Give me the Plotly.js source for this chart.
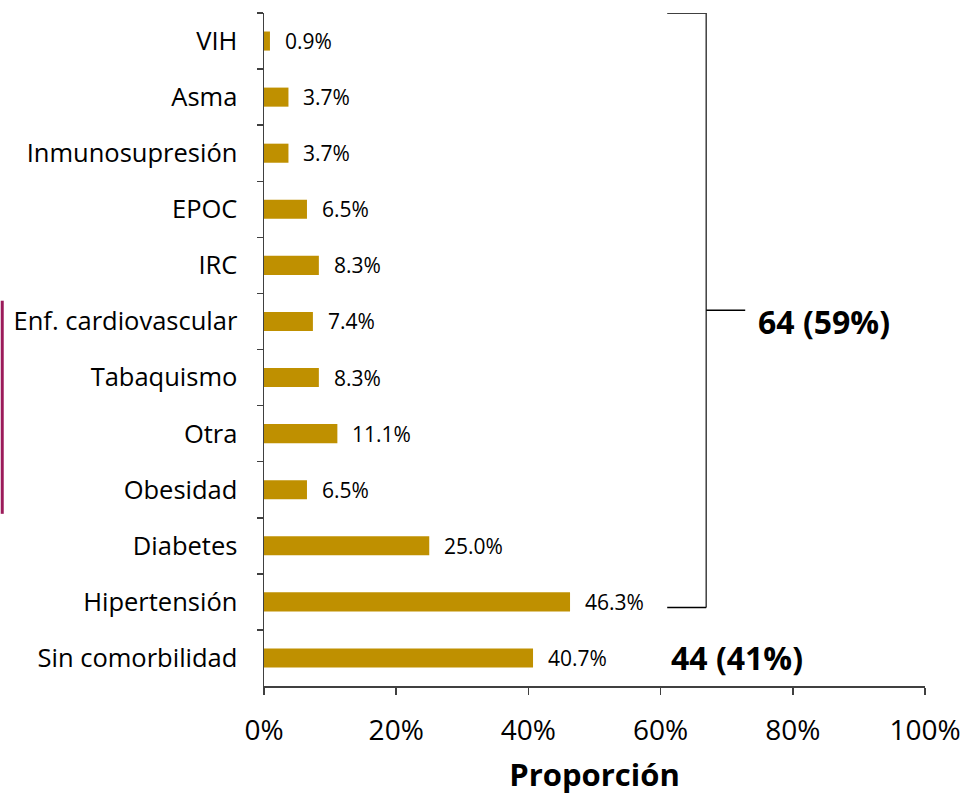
<!DOCTYPE html>
<html>
<head>
<meta charset="utf-8">
<script src="https://cdn.plot.ly/plotly-3.0.1.min.js"></script>
<style>html,body{margin:0;padding:0;background:#fff;}#chart{width:962px;height:797px;}</style>
</head>
<body>
<div id="chart"></div>
<script>
const categories = ["VIH","Asma","Inmunosupresión","EPOC","IRC","Enf. cardiovascular","Tabaquismo","Otra","Obesidad","Diabetes","Hipertensión","Sin comorbilidad"];
const values = [0.9,3.7,3.7,6.5,8.3,7.4,8.3,11.1,6.5,25.0,46.3,40.7];
const valueLabels = values.map(v => v.toFixed(1) + "%");
const xTicks = [0,20,40,60,80,100];
const xTickLabels = xTicks.map(v => v + "%");
const groupLabels = ["64 (59%)","44 (41%)"];

const FONT = "'Open Sans', sans-serif";
const lineColor = "#404040";

const trace = {
  type: "bar",
  orientation: "h",
  y: categories,
  x: values,
  width: 0.34,
  marker: {color: "#BF9000"},
  hoverinfo: "skip"
};

const annotations = values.map((v,i) => ({
  x: v, y: categories[i], xref: "x", yref: "y",
  text: valueLabels[i], showarrow: false,
  xanchor: "left", xshift: 13,
  font: {family: FONT, size: 21, color: "#000"}
}));
annotations.push({
  x: 74.5, y: 5, xref: "x", yref: "y", text: "<b>" + groupLabels[0] + "</b>",
  showarrow: false, xanchor: "left", font: {family: FONT, size: 32, color: "#000"}
});
annotations.push({
  x: 61.2, y: 11, xref: "x", yref: "y", text: "<b>" + groupLabels[1] + "</b>",
  showarrow: false, xanchor: "left", font: {family: FONT, size: 32, color: "#000"}
});

const bl = {color: "#000", width: 1.5};
const shapes = [
  {type: "line", xref: "x", yref: "y", x0: 61, x1: 66.9, y0: -0.5, y1: -0.5, line: bl},
  {type: "line", xref: "x", yref: "y", x0: 66.9, x1: 66.9, y0: -0.5, y1: 10.1, line: {color: "#404040", width: 1.5}},
  {type: "line", xref: "x", yref: "y", x0: 61, x1: 66.9, y0: 10.1, y1: 10.1, line: bl},
  {type: "line", xref: "x", yref: "y", x0: 66.9, x1: 72.8, y0: 4.8, y1: 4.8, line: bl},
  {type: "line", xref: "paper", yref: "y", x0: -0.396, x1: -0.396, y0: 4.63, y1: 8.43, line: {color: "#9B1B5A", width: 3}}
];

const layout = {
  width: 962, height: 797,
  margin: {l: 264, r: 37, t: 13, b: 111},
  paper_bgcolor: "#fff", plot_bgcolor: "#fff",
  showlegend: false,
  font: {family: FONT, color: "#000"},
  xaxis: {
    range: [0, 100], tickvals: xTicks, ticktext: xTickLabels,
    showgrid: false, zeroline: false, showline: true, linecolor: lineColor, linewidth: 1.5,
    ticks: "outside", ticklen: 7, tickwidth: 1.5, tickcolor: lineColor,
    tickfont: {family: FONT, size: 28, color: "#000"},
    ticklabelstandoff: 12,
    title: {text: "<b>Proporción</b>", font: {family: FONT, size: 31, color: "#000"}, standoff: 17}
  },
  yaxis: {
    type: "category", categoryorder: "array", categoryarray: categories,
    range: [11.5, -0.5],
    showgrid: false, zeroline: false, showline: true, linecolor: lineColor, linewidth: 1.5,
    ticks: "outside", ticklen: 6, tickwidth: 1.5, tickcolor: lineColor, tickson: "boundaries",
    tickfont: {family: FONT, size: 25.5, color: "#000"},
    ticklabelstandoff: 20
  },
  annotations: annotations,
  shapes: shapes
};

Plotly.newPlot("chart", [trace], layout, {displayModeBar: false, staticPlot: true});
</script>
</body>
</html>
